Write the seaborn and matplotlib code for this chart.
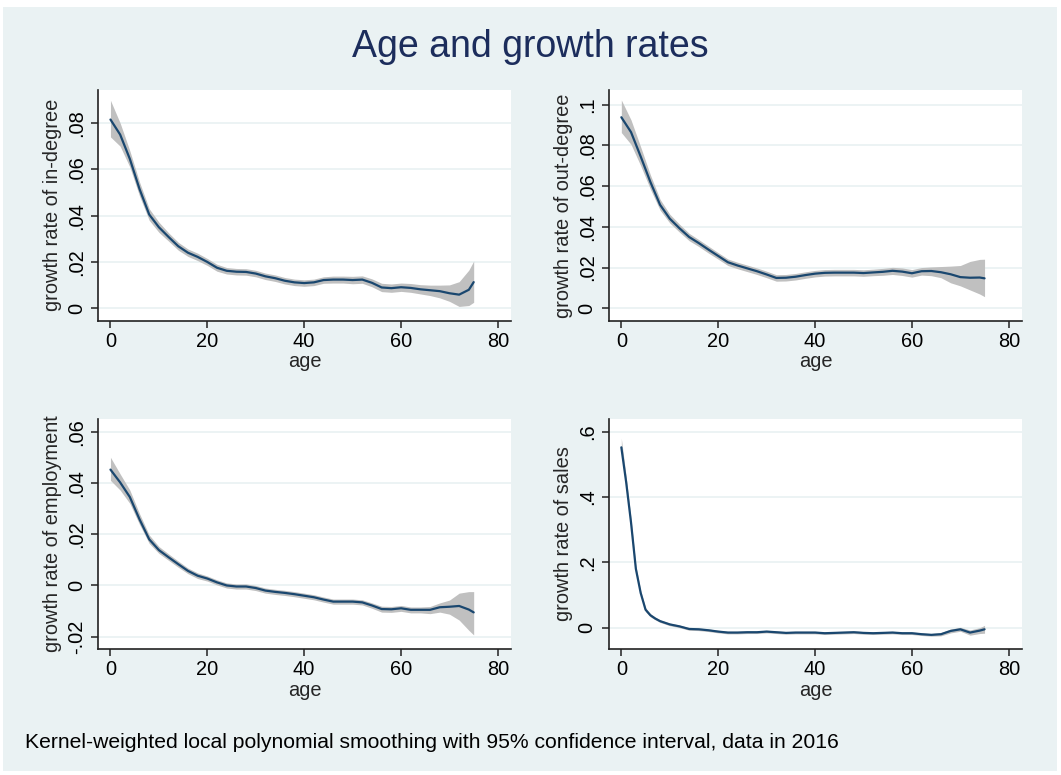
import numpy as np
import pandas as pd
import seaborn as sns
import matplotlib.pyplot as plt
from matplotlib.patches import Rectangle

# age grid for the degree / employment panels
ages = [0, 2, 4, 6, 8, 10, 12, 14, 16, 18, 20, 22, 24, 26, 28, 30, 32, 34, 36, 38,
        40, 42, 44, 46, 48, 50, 52, 54, 56, 58, 60, 62, 64, 66, 68, 70, 72, 74, 75]

in_deg = [.0815, .0750, .0645, .0515, .0405, .0350, .0308, .0268, .0240, .0222, .0200, .0175, .0162,
          .0158, .0157, .0150, .0138, .0130, .0119, .0112, .0109, .0112, .0122, .0124, .0124, .0122,
          .0124, .0110, .0090, .0087, .0091, .0088, .0082, .0078, .0074, .0065, .0059, .0080, .0113]
in_hi = [.0898, .0800, .0680, .0545, .0430, .0372, .0326, .0285, .0256, .0238, .0215, .0190, .0176,
         .0172, .0171, .0164, .0152, .0144, .0133, .0126, .0123, .0126, .0136, .0139, .0139, .0138,
         .0140, .0127, .0108, .0105, .0109, .0107, .0102, .0100, .0100, .0101, .0115, .0165, .0204]
in_lo = [.0740, .0700, .0610, .0485, .0380, .0328, .0290, .0251, .0224, .0206, .0185, .0160, .0148,
         .0144, .0143, .0136, .0124, .0116, .0105, .0098, .0095, .0098, .0108, .0109, .0109, .0106,
         .0108, .0093, .0072, .0069, .0073, .0069, .0062, .0055, .0045, .0030, .0008, .0012, .0026]

out_deg = [.0938, .0865, .0745, .0620, .0508, .0440, .0393, .0350, .0320, .0288, .0257, .0226, .0210,
           .0196, .0182, .0166, .0149, .0150, .0155, .0163, .0170, .0174, .0175, .0175, .0175, .0173,
           .0176, .0179, .0184, .0180, .0172, .0182, .0183, .0177, .0167, .0153, .0150, .0151, .0147]
out_hi = [.1023, .0925, .0792, .0655, .0535, .0462, .0413, .0368, .0337, .0305, .0273, .0242, .0226,
          .0212, .0198, .0182, .0165, .0166, .0171, .0179, .0186, .0190, .0191, .0191, .0191, .0189,
          .0192, .0196, .0201, .0198, .0190, .0200, .0203, .0205, .0207, .0210, .0230, .0240, .0241]
out_lo = [.0863, .0805, .0700, .0585, .0482, .0419, .0374, .0332, .0303, .0271, .0241, .0210, .0194,
          .0180, .0166, .0150, .0133, .0134, .0139, .0147, .0154, .0158, .0159, .0159, .0159, .0157,
          .0160, .0162, .0166, .0161, .0153, .0163, .0160, .0150, .0125, .0110, .0090, .0070, .0057]

emp = [.0452, .0402, .0345, .0258, .0180, .0138, .0110, .0083, .0057, .0038, .0027, .0012, .0000,
       -.0004, -.0004, -.0010, -.0020, -.0025, -.0029, -.0034, -.0040, -.0046, -.0055, -.0063, -.0063,
       -.0063, -.0066, -.0078, -.0092, -.0093, -.0089, -.0095, -.0095, -.0095, -.0085, -.0083, -.0080,
       -.0094, -.0105]
emp_hi = [.0500, .0435, .0372, .0280, .0197, .0152, .0123, .0095, .0068, .0049, .0037, .0022, .0010,
          .0006, .0006, .0000, -.0010, -.0015, -.0019, -.0024, -.0030, -.0036, -.0045, -.0053, -.0053,
          -.0053, -.0056, -.0068, -.0081, -.0082, -.0078, -.0084, -.0084, -.0082, -.0068, -.0057, -.0030,
          -.0024, -.0024]
emp_lo = [.0410, .0372, .0320, .0238, .0164, .0125, .0098, .0071, .0046, .0027, .0017, .0002, -.0010,
          -.0014, -.0014, -.0020, -.0030, -.0035, -.0039, -.0044, -.0050, -.0056, -.0065, -.0073, -.0073,
          -.0073, -.0076, -.0089, -.0104, -.0105, -.0101, -.0107, -.0107, -.0110, -.0104, -.0112, -.0135,
          -.0175, -.0193]

# sales drops very fast, so a finer grid at the start
ages_sales = [0, 1, 2, 3, 4, 5, 6, 7, 8, 10, 12, 14, 16, 18, 20, 22, 24, 26, 28, 30, 32, 34, 36, 38,
              40, 42, 44, 46, 48, 50, 52, 54, 56, 58, 60, 62, 64, 66, 68, 70, 72, 74, 75]
sales = [.552, .445, .322, .180, .106, .055, .038, .028, .020, .010, .004, -.004, -.005, -.008, -.012,
         -.015, -.015, -.014, -.014, -.012, -.014, -.016, -.015, -.015, -.015, -.017, -.016, -.015,
         -.014, -.016, -.017, -.016, -.015, -.017, -.017, -.020, -.022, -.020, -.010, -.005, -.015,
         -.009, -.005]
sales_hi = [.580, .462, .334, .190, .113, .061, .043, .032, .024, .014, .008, .000, -.001, -.004, -.008,
            -.011, -.011, -.010, -.010, -.008, -.010, -.012, -.011, -.011, -.011, -.013, -.012, -.011,
            -.010, -.012, -.013, -.012, -.011, -.013, -.013, -.016, -.018, -.015, -.004, .001, -.007,
            .000, .007]
sales_lo = [.536, .430, .312, .170, .099, .049, .033, .024, .016, .006, .000, -.008, -.009, -.012, -.016,
            -.019, -.019, -.018, -.018, -.016, -.018, -.020, -.019, -.019, -.019, -.021, -.020, -.019,
            -.018, -.020, -.021, -.020, -.019, -.021, -.021, -.024, -.026, -.025, -.016, -.011, -.023,
            -.018, -.017]

xticks = [0, 20, 40, 60, 80]

sns.set_theme(style='white')
plt.rcParams['font.family'] = ['Liberation Sans', 'DejaVu Sans']

BG = '#eaf2f3'
LINE = '#1a476f'
CI = '#c0c0c0'

fig = plt.figure(figsize=(10.61, 7.75), dpi=100, facecolor='white')
fig.patches.append(Rectangle((3 / 1061, 4 / 775), 1054 / 1061, 764 / 775,
                             transform=fig.transFigure, facecolor=BG, edgecolor='none', zorder=-10))


def panel(rect, x, y, lo, hi, ylab, yticks, yticklabels, ylim):
    ax = fig.add_axes(rect)
    df = pd.DataFrame({'age': x, 'rate': y, 'lo': lo, 'hi': hi})
    ax.fill_between(df['age'], df['lo'], df['hi'], color=CI, lw=0, zorder=2)
    sns.lineplot(data=df, x='age', y='rate', ax=ax, color=LINE, lw=1.6, zorder=3)
    ax.set_facecolor('white')
    ax.set_xlim(-2.5, 82.7)
    ax.set_ylim(*ylim)
    ax.set_xticks(xticks)
    ax.set_xticklabels([str(t) for t in xticks], fontsize=14.4)
    ax.set_yticks(yticks)
    ax.set_yticklabels(yticklabels, fontsize=14.4, rotation=90, va='center')
    ax.yaxis.grid(True, color=BG, lw=1.3)
    ax.xaxis.grid(False)
    ax.set_axisbelow(True)
    for s in ['top', 'right']:
        ax.spines[s].set_visible(False)
    for s in ['left', 'bottom']:
        ax.spines[s].set_color('#222222')
        ax.spines[s].set_linewidth(1.2)
    ax.tick_params(axis='both', direction='out', length=5, width=1.1, color='#222222',
                   left=True, bottom=True, labelcolor='black')
    ax.tick_params(axis='x', pad=3)
    ax.tick_params(axis='y', pad=4)
    ax.set_xlabel('age', fontsize=14.4, labelpad=1)
    ax.set_ylabel(ylab, fontsize=14.4)
    ax.yaxis.set_label_coords(-0.087, 0.5)
    return ax


w, h = 0.3889, 0.2977
panel([0.0927, 0.5862, w, h], ages, in_deg, in_lo, in_hi, 'growth rate of in-degree',
      [0, .02, .04, .06, .08], ['0', '.02', '.04', '.06', '.08'], (-0.00535, 0.09426))
panel([0.5742, 0.5862, w, h], ages, out_deg, out_lo, out_hi, 'growth rate of out-degree',
      [0, .02, .04, .06, .08, .1], ['0', '.02', '.04', '.06', '.08', '.1'], (-0.0061, 0.1072))
panel([0.0927, 0.1622, w, h], ages, emp, emp_lo, emp_hi, 'growth rate of employment',
      [-.02, 0, .02, .04, .06], ['-.02', '0', '.02', '.04', '.06'], (-0.0249, 0.0651))
panel([0.5742, 0.1622, w, h], ages_sales, sales, sales_lo, sales_hi, 'growth rate of sales',
      [0, .2, .4, .6], ['0', '.2', '.4', '.6'], (-0.0662, 0.640))

fig.text(0.4995, 1 - 57.3 / 775, 'Age and growth rates', ha='center', va='baseline',
         fontsize=27, color='#1c2d5c')
fig.text(25.4 / 1061, 1 - 748.3 / 775,
         'Kernel-weighted local polynomial smoothing with 95% confidence interval, data in 2016',
         ha='left', va='baseline', fontsize=15.2, color='black')

fig.savefig('out.png', dpi=100, facecolor='white')
